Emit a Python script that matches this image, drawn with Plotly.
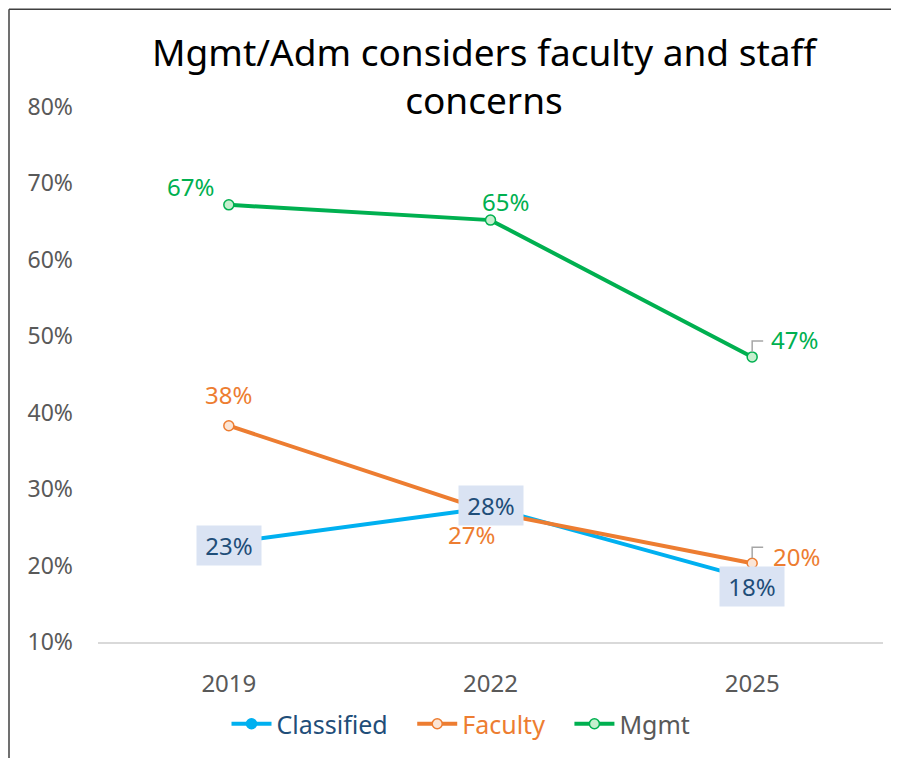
import plotly.graph_objects as go

years = ["2019", "2022", "2025"]
classified = [0.23, 0.276, 0.182]
faculty = [0.383, 0.27, 0.203]
mgmt = [0.672, 0.652, 0.473]
classified_labels = ["23%", "28%", "18%"]
faculty_labels = ["38%", "27%", "20%"]
mgmt_labels = ["67%", "65%", "47%"]
y_ticks = [0.1, 0.2, 0.3, 0.4, 0.5, 0.6, 0.7, 0.8]
y_tick_text = ["10%", "20%", "30%", "40%", "50%", "60%", "70%", "80%"]

FONT = "Noto Sans"
C_BLUE = "#00B0F0"
C_ORANGE = "#ED7D31"
C_GREEN = "#00B050"
C_DARK = "#1F4E79"
C_GRAY = "#595959"

VW, VH = 899, 758
OFF = 8  # page body margin
W, H = VW - OFF, VH - OFF  # figure fits in the window without scrollbars
# plot area in screenshot pixels
PX0, PX1, PY0, PY1 = 98, 883, 107, 643
ML, MT = PX0 - OFF, PY0 - OFF
PW, PH = PX1 - PX0, PY1 - PY0
MR, MB = W - ML - PW, H - MT - PH


def px_x(px):
    return (px - PX0) / PW


def px_y(py):
    return (PY1 - py) / PH


SP = "\u00a0\u00a0\u00a0"
fig = go.Figure()
fig.add_trace(go.Scatter(
    x=years, y=classified, mode="lines+markers",
    name=f'<span style="color:{C_DARK}">Classified</span>{SP}',
    line=dict(color=C_BLUE, width=4),
    marker=dict(size=10, color=C_BLUE, line=dict(color=C_BLUE, width=1.5)),
))
fig.add_trace(go.Scatter(
    x=years, y=faculty, mode="lines+markers",
    name=f'<span style="color:{C_ORANGE}">Faculty</span>{SP}',
    line=dict(color=C_ORANGE, width=4),
    marker=dict(size=10, color="#FBE5D6", line=dict(color=C_ORANGE, width=1.5)),
))
fig.add_trace(go.Scatter(
    x=years, y=mgmt, mode="lines+markers",
    name=f'<span style="color:{C_GRAY}">Mgmt</span>',
    line=dict(color=C_GREEN, width=4),
    marker=dict(size=10, color="#C6EFCE", line=dict(color=C_GREEN, width=1.5)),
))

ann = []
LBL = 24
# Classified labels: boxed, centred on the points
cl_shift = [-3, 2, -7]
for i, (v, t) in enumerate(zip(classified, classified_labels)):
    ann.append(dict(x=i, y=v, text=t, showarrow=False, xref="x", yref="y",
                    font=dict(family=FONT, size=LBL, color=C_DARK),
                    bgcolor="#DAE3F3", borderpad=4, width=56, height=31,
                    yshift=cl_shift[i]))
# Faculty labels
fac_pos = [(0, 31), (-19, -22), (44, 7)]
for i, (v, t) in enumerate(zip(faculty, faculty_labels)):
    xs, ys = fac_pos[i]
    ann.append(dict(x=i, y=v, text=t, showarrow=False, xref="x", yref="y",
                    font=dict(family=FONT, size=LBL, color=C_ORANGE),
                    xshift=xs, yshift=ys))
# Mgmt labels
mg_pos = [(-38, 18), (15, 19), (42, 17)]
for i, (v, t) in enumerate(zip(mgmt, mgmt_labels)):
    xs, ys = mg_pos[i]
    ann.append(dict(x=i, y=v, text=t, showarrow=False, xref="x", yref="y",
                    font=dict(family=FONT, size=LBL, color=C_GREEN),
                    xshift=xs, yshift=ys))

# Title
ann.append(dict(text="Mgmt/Adm considers faculty and staff<br>concerns",
                xref="paper", yref="paper",
                x=px_x(485), y=px_y(75),
                showarrow=False, xanchor="center", yanchor="middle",
                font=dict(family=FONT, size=37, color="#000000")))

shapes = []
# leader lines for the last-point labels (offsets in data units from the values)
px_per_cat = PW / 3.0
px_per_unit = PH / 0.7
for v in [faculty[2], mgmt[2]]:
    y_bot = v + 5 / px_per_unit
    y_top = v + 16 / px_per_unit
    shapes.append(dict(type="path", xref="x", yref="y",
                       path=f"M 2,{y_bot} L 2,{y_top} L {2 + 11 / px_per_cat},{y_top}",
                       line=dict(color="#A6A6A6", width=1.5)))
# chart border (top and left)
shapes.append(dict(type="line", xref="paper", yref="paper",
                   x0=px_x(9), x1=px_x(VW + 2), y0=px_y(9), y1=px_y(9),
                   line=dict(color="#404040", width=1.5)))
shapes.append(dict(type="line", xref="paper", yref="paper",
                   x0=px_x(9), x1=px_x(9), y0=px_y(9), y1=px_y(VH + 2),
                   line=dict(color="#404040", width=1.5)))

fig.update_layout(
    width=W, height=H,
    margin=dict(l=ML, r=MR, t=MT, b=MB),
    paper_bgcolor="white", plot_bgcolor="white",
    font=dict(family=FONT, color=C_GRAY),
    showlegend=True,
    legend=dict(orientation="h", x=px_x(461), xanchor="center",
                y=px_y(724), yanchor="middle",
                font=dict(family=FONT, size=25), itemwidth=40,
                bgcolor="rgba(0,0,0,0)"),
    annotations=ann, shapes=shapes,
    xaxis=dict(type="category", range=[-0.5, 2.5], showgrid=False,
               showline=True, linecolor="#D9D9D9", linewidth=1.5,
               ticks="", tickfont=dict(family=FONT, size=24, color=C_GRAY),
               ticklabelstandoff=19, zeroline=False, fixedrange=True),
    yaxis=dict(range=[0.1, 0.8], tickvals=y_ticks, ticktext=y_tick_text,
               showgrid=False, showline=False, zeroline=False, ticks="",
               tickfont=dict(family=FONT, size=23, color=C_GRAY),
               ticklabelstandoff=24, fixedrange=True),
)

fig.write_html("out.html")
